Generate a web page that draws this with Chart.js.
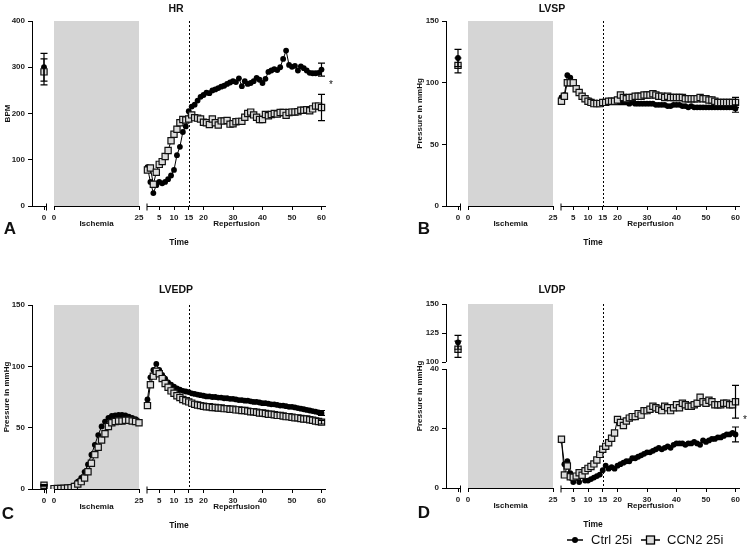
<!DOCTYPE html>
<html>
<head>
<meta charset="utf-8">
<title>HR LVSP LVEDP LVDP</title>
<script src="https://cdn.jsdelivr.net/npm/chart.js@4.4.1/dist/chart.umd.min.js"></script>
<style>
body { margin: 0; background: #fff; }
#contenedor { position: relative; width: 749px; height: 549px; background: #fff; }
#contenedor canvas { position: absolute; }
</style>
</head>
<body>
<div id="contenedor">
  <canvas id="hr" width="375" height="275" style="left:0;top:0"></canvas>
  <canvas id="lvsp" width="374" height="275" style="left:375px;top:0"></canvas>
  <canvas id="lvedp" width="375" height="274" style="left:0;top:275px"></canvas>
  <canvas id="lvdp" width="374" height="274" style="left:375px;top:275px"></canvas>
</div>
<script>
// minutes
var ischMin = [0,1,2,3,4,5,6,7,8,9,10,11,12,13,14,15,16,17,18,19,20,21,22,23,24,25];
var repMin = [1,2,3,4,5,6,7,8,9,10,11,12,13,14,15,16,17,18,19,20,21,22,23,24,25,26,27,28,29,30,
  31,32,33,34,35,36,37,38,39,40,41,42,43,44,45,46,47,48,49,50,51,52,53,54,55,56,57,58,59,60];
var baseTick = [0];
var ischTicks = [0, 25];
var repTicks = [5, 10, 15, 20, 30, 40, 50, 60];

var hrTicks = [0, 100, 200, 300, 400];
var lvspTicks = [0, 50, 100, 150];
var lvedpTicks = [0, 50, 100, 150];
var lvdpTicks = [0, 20, 40, 100, 125, 150];

// baseline (HR, LVSP, LVEDP, LVDP)
var baseCtrl = [300, 120, 3, 117];
var baseCtrlErr = [30, 7, 0.5, 6];
var baseCcn = [290, 114, 3, 111];
var baseCcnErr = [28, 6, 0.5, 7];
// error at 60 min of reperfusion
var endCtrlErr = [14, 3, 2, 2.5];
var endCcnErr = [28.5, 4, 1.5, 5.5];
// asterisk
var sigMark = [266, null, null, 23.5];

var hrCtrl = [84,52,28,45,52,49,52,58,66,78,110,128,160,172,205,215,219,228,236,240,
  245,244,250,252,255,258,260,264,267,270,268,276,259,270,264,266,270,277,273,266,
  275,290,293,296,294,300,318,336,305,301,303,293,302,298,293,288,287,287,288,295];
var hrCcn = [78,82,47,73,90,96,107,120,141,155,166,180,187,186,188,197,191,190,188,181,
  180,176,188,180,175,184,184,185,177,178,182,183,183,192,200,203,197,192,187,187,
  198,195,198,200,199,202,202,196,202,203,203,204,207,207,208,206,210,216,216,213];

var lvspCtrl = [88,90,106,104,100,96,92,89,87,86,85,84,84,83,84,84,84,84,84,84,
  84,84,84,83,84,83,83,83,83,83,83,83,82,82,82,82,81,81,82,82,
  82,81,81,80,81,80,80,80,80,80,80,80,80,80,80,80,80,80,80,79];
var lvspCcn = [85,89,100,100,100,95,92,89,87,85,84,83,83,83,84,84,85,85,85,86,
  90,88,87,88,88,89,89,89,90,90,90,91,90,89,89,88,89,88,88,88,
  88,88,87,87,87,87,87,88,87,87,86,86,85,84,84,84,84,84,84,84];

var lvedpCtrlIsch = [0.5,0.6,0.7,0.8,1,1.5,3,6,9,14,20,28,36,44,51,55,58,59.5,60,60.5,60.5,60,59,58,57,55];
var lvedpCcnIsch = [0.3,0.4,0.5,0.6,0.8,1,2,4,6,9,14,21,28,34,40,45,51,54,55,55.5,55.5,56,56,55.5,55,54];
var lvedpCtrl = [73,91,97,102,97,93,90,87,85,83.5,82,81,80,79.5,79,78,77.5,77,76.5,76,
  75.5,75.5,75,75,74.5,74.5,74,74,73.5,73.5,73,72.5,72.5,72,72,71.5,71,71,70.5,70,
  70,69.5,69,69,68.5,68,68,67.5,67,67,66.5,66,65.5,65,64.5,64,63.5,63,62.5,62];
var lvedpCcn = [68,85,92,96,94,90,86,83,80,78,76,74.5,73,72,71,70,69,68.5,68,67.5,
  67,67,66.5,66.5,66,66,65.5,65.5,65,65,64.5,64.5,64,64,63.5,63,63,62.5,62,62,
  61.5,61,61,60.5,60,60,59.5,59,59,58.5,58,58,57.5,57,57,56.5,56,55.5,55,54.5];

var lvdpCtrl = [16,8,9,5,2,3.5,2,4,2.5,2.5,3,3.5,4,4.5,6,7.5,6.5,7,6.5,7.5,
  8,8.5,9,9,10,10,10.5,11,11.5,12,12,12.5,13,13.5,13,13.5,14,13.5,14.5,15,
  15,15,14.5,15,15,15.5,15,14.5,16,15.5,16,16.5,16.5,17,17,17.5,18,18,18.5,18];
var lvdpCcn = [16.4,4.4,7.4,3.8,3.6,4,5.1,4.3,5.8,6.6,7.2,8.1,9.4,11.3,13,14,15.2,16.7,18.5,23,
  22,21,22.5,23.5,24,24,25,24.5,26,26,26.5,27.5,27,26.5,26,27.5,27,26,27,28,
  27,28.5,28,27.5,27.5,28,28.5,30.5,29,28.5,29.5,29,28,28,28,28.5,28.5,28,28,29];

// position of the three pieces of the time axis
function xBase(t) { return 12; }
function xIsch(t) { return 22 + t * 3.4; }
function xRep(t) { return 112.5 + t * 2.95; }
var ejeX = [[0, 14.5], [22, 107], [115, 294]];

function sinCorte(v) { return v; }
function corteLvdp(v) { return v <= 40 ? v : 42.35 + (v - 100) * 0.39; }

var paneles = [
  { id: 'hr', k: 0, titulo: 'HR', yTitulo: 'BPM', letra: 'A', w: 375, h: 275,
    left: 32, top: 21, right: 326, bottom: 206, ticks: hrTicks, yMap: sinCorte, yMax: 400,
    ctrl: hrCtrl, ccn: hrCcn, titX: 176, titY: 9, yTitX: 8, letX: 10, letY: 229 },
  { id: 'lvsp', k: 1, titulo: 'LVSP', yTitulo: 'Pressure in mmHg', letra: 'B', w: 374, h: 275,
    left: 71, top: 21, right: 365, bottom: 206, ticks: lvspTicks, yMap: sinCorte, yMax: 150,
    ctrl: lvspCtrl, ccn: lvspCcn, titX: 177, titY: 9, yTitX: 45, letX: 49, letY: 229 },
  { id: 'lvedp', k: 2, titulo: 'LVEDP', yTitulo: 'Pressure in mmHg', letra: 'C', w: 375, h: 274,
    left: 32, top: 30, right: 326, bottom: 214, ticks: lvedpTicks, yMap: sinCorte, yMax: 150,
    ctrl: lvedpCtrl, ccn: lvedpCcn, ctrlIsch: lvedpCtrlIsch, ccnIsch: lvedpCcnIsch,
    titX: 176, titY: 15, yTitX: 7, letX: 8, letY: 239 },
  { id: 'lvdp', k: 3, titulo: 'LVDP', yTitulo: 'Pressure in mmHg', letra: 'D', w: 374, h: 274,
    left: 71, top: 29, right: 365, bottom: 213, ticks: lvdpTicks, yMap: corteLvdp, yMax: corteLvdp(150),
    ctrl: lvdpCtrl, ccn: lvdpCcn, corte: true, leyenda: true,
    titX: 177, titY: 15, yTitX: 45, letX: 49, letY: 238 }
];
var panelPorId = {};

var FUENTE = '"Liberation Sans", Arial, sans-serif';

function puntos(tiempos, valores, fx, yMap) {
  return valores.map(function (v, i) { return { x: fx(tiempos[i]), y: yMap(v) }; });
}

function estiloCtrl(data) {
  return { label: 'Ctrl 25i', data: data, borderColor: '#000', borderWidth: 1,
    pointStyle: 'circle', pointRadius: 2.9, pointBackgroundColor: '#000',
    pointBorderColor: '#000', pointBorderWidth: 0, showLine: true };
}
function estiloCcn(data) {
  return { label: 'CCN2 25i', data: data, borderColor: '#000', borderWidth: 1,
    pointStyle: 'rect', pointRadius: 4.4, pointBackgroundColor: '#dcdcdc',
    pointBorderColor: '#111', pointBorderWidth: 1.2, showLine: true };
}

function texto(ctx, s, x, y, fuente, align) {
  ctx.font = fuente;
  ctx.textAlign = align || 'center';
  ctx.textBaseline = 'middle';
  ctx.fillStyle = '#111';
  ctx.fillText(s, x, y);
}

var decoracion = {
  id: 'decoracion',
  beforeDatasetsDraw: function (chart) {
    var p = panelPorId[chart.canvas.id];
    var ctx = chart.ctx, xs = chart.scales.x, area = chart.chartArea;
    ctx.save();
    // ischemia block
    var x0 = xs.getPixelForValue(xIsch(ischMin[0]));
    var x1 = xs.getPixelForValue(xIsch(ischMin[ischMin.length - 1]));
    ctx.fillStyle = '#d5d5d5';
    ctx.fillRect(x0, area.top, x1 - x0, area.bottom - area.top);
    // 15 min of reperfusion
    var xl = Math.round(xs.getPixelForValue(xRep(15))) + 0.5;
    ctx.strokeStyle = '#000';
    ctx.lineWidth = 1;
    ctx.setLineDash([2, 2]);
    ctx.beginPath();
    ctx.moveTo(xl, area.top);
    ctx.lineTo(xl, area.bottom);
    ctx.stroke();
    ctx.restore();
  },
  afterDatasetsDraw: function (chart) {
    var p = panelPorId[chart.canvas.id];
    var ctx = chart.ctx, xs = chart.scales.x, ys = chart.scales.y, area = chart.chartArea;
    var ult = repMin[repMin.length - 1];
    var barras = [
      [xBase(0), baseCtrl[p.k], baseCtrlErr[p.k]],
      [xBase(0), baseCcn[p.k], baseCcnErr[p.k]],
      [xRep(ult), p.ctrl[p.ctrl.length - 1], endCtrlErr[p.k]],
      [xRep(ult), p.ccn[p.ccn.length - 1], endCcnErr[p.k]]
    ];
    ctx.save();
    ctx.strokeStyle = '#000';
    ctx.lineWidth = 1.2;
    barras.forEach(function (b) {
      var x = xs.getPixelForValue(b[0]);
      var y1 = ys.getPixelForValue(p.yMap(b[1] + b[2]));
      var y2 = ys.getPixelForValue(p.yMap(b[1] - b[2]));
      ctx.beginPath();
      ctx.moveTo(x, y1); ctx.lineTo(x, y2);
      ctx.moveTo(x - 3.5, y1); ctx.lineTo(x + 3.5, y1);
      ctx.moveTo(x - 3.5, y2); ctx.lineTo(x + 3.5, y2);
      ctx.stroke();
    });

    // broken time axis
    var yb = Math.round(area.bottom) + 0.5;
    ctx.lineWidth = 1;
    ejeX.forEach(function (s, i) {
      var a = xs.getPixelForValue(s[0]), b = xs.getPixelForValue(s[1]);
      ctx.beginPath();
      ctx.moveTo(a, yb); ctx.lineTo(b, yb);
      if (i === 0) { ctx.moveTo(b, yb - 3); ctx.lineTo(b, yb + 4); }
      if (i === 2) { ctx.moveTo(a, yb - 3); ctx.lineTo(a, yb + 4); }
      ctx.stroke();
    });

    // broken value axis (LVDP)
    if (p.corte) {
      var xa = Math.round(area.left) + 0.5;
      ctx.beginPath();
      ctx.moveTo(xa, ys.getPixelForValue(0)); ctx.lineTo(xa, ys.getPixelForValue(40));
      ctx.moveTo(xa, ys.getPixelForValue(p.yMap(100))); ctx.lineTo(xa, ys.getPixelForValue(p.yMax));
      ctx.stroke();
    }

    var f8 = 'bold 8px ' + FUENTE;
    texto(ctx, p.titulo, p.titX, p.titY, 'bold 10.5px ' + FUENTE);
    texto(ctx, 'Ischemia', xs.getPixelForValue(xIsch(12.5)), area.bottom + 18, f8);
    texto(ctx, 'Reperfusion', xs.getPixelForValue((ejeX[2][0] + ejeX[2][1]) / 2), area.bottom + 18, f8);
    texto(ctx, 'Time', (area.left + area.right) / 2, area.bottom + 37, 'bold 8.5px ' + FUENTE);
    texto(ctx, p.letra, p.letX, p.letY, 'bold 17px ' + FUENTE);

    ctx.save();
    ctx.translate(p.yTitX, (area.top + area.bottom) / 2);
    ctx.rotate(-Math.PI / 2);
    texto(ctx, p.yTitulo, 0, 0, f8);
    ctx.restore();

    if (sigMark[p.k] !== null) {
      texto(ctx, '*', area.right + 5, ys.getPixelForValue(p.yMap(sigMark[p.k])) + 2, '10px ' + FUENTE);
    }

    if (p.leyenda) {
      var yl = 265;
      ctx.strokeStyle = '#000';
      ctx.lineWidth = 1.5;
      ctx.beginPath(); ctx.moveTo(192, yl); ctx.lineTo(208, yl); ctx.stroke();
      ctx.fillStyle = '#000';
      ctx.beginPath(); ctx.arc(200, yl, 3, 0, Math.PI * 2); ctx.fill();
      texto(ctx, 'Ctrl 25i', 216, yl, '13px ' + FUENTE, 'left');
      ctx.beginPath(); ctx.moveTo(266, yl); ctx.lineTo(285, yl); ctx.stroke();
      ctx.fillStyle = '#dcdcdc';
      ctx.lineWidth = 1.3;
      ctx.fillRect(271.5, yl - 4, 8, 8);
      ctx.strokeRect(271.5, yl - 4, 8, 8);
      texto(ctx, 'CCN2 25i', 292, yl, '13px ' + FUENTE, 'left');
    }
    ctx.restore();
  }
};

function crear_panel(p) {
  panelPorId[p.id] = p;
  var datasets = [
    estiloCcn([{ x: xBase(0), y: p.yMap(baseCcn[p.k]) }]),
    estiloCtrl([{ x: xBase(0), y: p.yMap(baseCtrl[p.k]) }]),
    estiloCcn(puntos(repMin, p.ccn, xRep, p.yMap)),
    estiloCtrl(puntos(repMin, p.ctrl, xRep, p.yMap))
  ];
  if (p.ctrlIsch) {
    datasets.push(estiloCcn(puntos(ischMin, p.ccnIsch, xIsch, p.yMap)));
    datasets.push(estiloCtrl(puntos(ischMin, p.ctrlIsch, xIsch, p.yMap)));
  }
  var xPos = [], xLab = [];
  baseTick.forEach(function (t) { xPos.push(xBase(t)); xLab.push(String(t)); });
  ischTicks.forEach(function (t) { xPos.push(xIsch(t)); xLab.push(String(t)); });
  repTicks.forEach(function (t) { xPos.push(xRep(t)); xLab.push(String(t)); });

  var ctx = document.getElementById(p.id).getContext('2d');
  return new Chart(ctx, {
    type: 'scatter',
    data: { datasets: datasets },
    plugins: [decoracion],
    options: {
      responsive: false,
      animation: false,
      events: [],
      layout: { padding: { left: 0, top: p.top, right: p.w - p.right, bottom: 0 } },
      plugins: { legend: { display: false }, tooltip: { enabled: false }, title: { display: false } },
      scales: {
        x: {
          type: 'linear', min: 0, max: 294,
          afterBuildTicks: function (s) { s.ticks = xPos.map(function (v) { return { value: v }; }); },
          afterFit: function (s) { s.height = p.h - p.bottom; },
          grid: { drawOnChartArea: false, drawTicks: true, tickLength: 4, color: '#000', lineWidth: 1 },
          border: { display: false },
          ticks: { autoSkip: false, maxRotation: 0, padding: 3, color: '#222',
            font: { family: FUENTE, size: 8, weight: 'bold' },
            callback: function (v, i) { return xLab[i]; } }
        },
        y: {
          type: 'linear', min: 0, max: p.yMax,
          afterBuildTicks: function (s) { s.ticks = p.ticks.map(function (v) { return { value: p.yMap(v) }; }); },
          afterFit: function (s) { s.width = p.left; },
          grid: { drawOnChartArea: false, drawTicks: true, tickLength: 4, color: '#000', lineWidth: 1 },
          border: { display: !p.corte, color: '#000', width: 1 },
          ticks: { padding: 3, color: '#222',
            font: { family: FUENTE, size: 8, weight: 'bold' },
            callback: function (v, i) { return String(p.ticks[i]); } }
        }
      }
    }
  });
}

paneles.forEach(function (p) { crear_panel(p); });
</script>
</body>
</html>
